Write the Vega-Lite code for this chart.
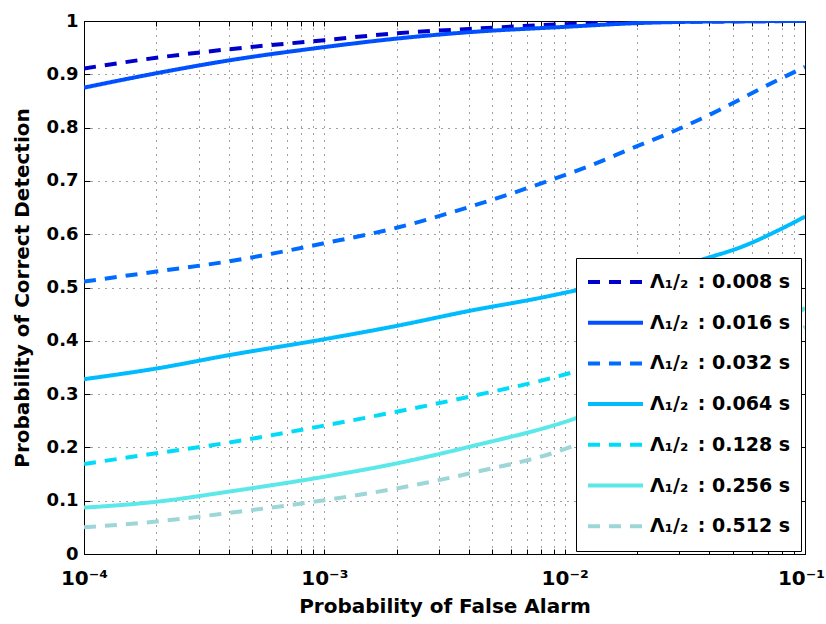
{
  "$schema": "https://vega.github.io/schema/vega-lite/v6.json",
  "width": 721,
  "height": 533,
  "autosize": {"type": "none"},
  "padding": {"left": 84, "top": 21, "right": 21, "bottom": 70},
  "background": "white",
  "config": {
    "view": {"stroke": "black", "strokeWidth": 1},
    "font": "DejaVu Sans",
    "axis": {
      "labelFont": "DejaVu Sans",
      "labelFontWeight": "bold",
      "labelFontSize": 18,
      "labelColor": "black",
      "titleFont": "DejaVu Sans",
      "titleFontWeight": "bold",
      "titleFontSize": 20,
      "titleColor": "black",
      "domainColor": "black",
      "tickColor": "black",
      "gridColor": "black",
      "gridOpacity": 0.75,
      "gridDash": [1, 6],
      "gridWidth": 1
    }
  },
  "data": {
    "values": [
      {"pfa": 0.0001, "pd": 0.911, "series": "0.008"},
      {"pfa": 0.0002, "pd": 0.931, "series": "0.008"},
      {"pfa": 0.0004, "pd": 0.947, "series": "0.008"},
      {"pfa": 0.001, "pd": 0.964, "series": "0.008"},
      {"pfa": 0.002, "pd": 0.977, "series": "0.008"},
      {"pfa": 0.004, "pd": 0.985, "series": "0.008"},
      {"pfa": 0.01, "pd": 0.994, "series": "0.008"},
      {"pfa": 0.02, "pd": 0.998, "series": "0.008"},
      {"pfa": 0.04, "pd": 0.999, "series": "0.008"},
      {"pfa": 0.1, "pd": 1.0, "series": "0.008"},

      {"pfa": 0.0001, "pd": 0.875, "series": "0.016"},
      {"pfa": 0.0002, "pd": 0.902, "series": "0.016"},
      {"pfa": 0.0004, "pd": 0.926, "series": "0.016"},
      {"pfa": 0.001, "pd": 0.951, "series": "0.016"},
      {"pfa": 0.002, "pd": 0.967, "series": "0.016"},
      {"pfa": 0.004, "pd": 0.979, "series": "0.016"},
      {"pfa": 0.01, "pd": 0.989, "series": "0.016"},
      {"pfa": 0.02, "pd": 0.996, "series": "0.016"},
      {"pfa": 0.04, "pd": 0.999, "series": "0.016"},
      {"pfa": 0.1, "pd": 1.0, "series": "0.016"},

      {"pfa": 0.0001, "pd": 0.511, "series": "0.032"},
      {"pfa": 0.0002, "pd": 0.530, "series": "0.032"},
      {"pfa": 0.0004, "pd": 0.549, "series": "0.032"},
      {"pfa": 0.001, "pd": 0.583, "series": "0.032"},
      {"pfa": 0.002, "pd": 0.612, "series": "0.032"},
      {"pfa": 0.004, "pd": 0.651, "series": "0.032"},
      {"pfa": 0.01, "pd": 0.711, "series": "0.032"},
      {"pfa": 0.0125, "pd": 0.727, "series": "0.032"},
      {"pfa": 0.019, "pd": 0.761, "series": "0.032"},
      {"pfa": 0.029, "pd": 0.795, "series": "0.032"},
      {"pfa": 0.044, "pd": 0.833, "series": "0.032"},
      {"pfa": 0.066, "pd": 0.874, "series": "0.032"},
      {"pfa": 0.1, "pd": 0.914, "series": "0.032"},

      {"pfa": 0.0001, "pd": 0.328, "series": "0.064"},
      {"pfa": 0.0002, "pd": 0.348, "series": "0.064"},
      {"pfa": 0.0004, "pd": 0.373, "series": "0.064"},
      {"pfa": 0.001, "pd": 0.403, "series": "0.064"},
      {"pfa": 0.002, "pd": 0.428, "series": "0.064"},
      {"pfa": 0.004, "pd": 0.456, "series": "0.064"},
      {"pfa": 0.008, "pd": 0.481, "series": "0.064"},
      {"pfa": 0.011, "pd": 0.494, "series": "0.064"},
      {"pfa": 0.02, "pd": 0.518, "series": "0.064"},
      {"pfa": 0.039, "pd": 0.555, "series": "0.064"},
      {"pfa": 0.055, "pd": 0.577, "series": "0.064"},
      {"pfa": 0.078, "pd": 0.608, "series": "0.064"},
      {"pfa": 0.1, "pd": 0.633, "series": "0.064"},

      {"pfa": 0.0001, "pd": 0.169, "series": "0.128"},
      {"pfa": 0.0002, "pd": 0.189, "series": "0.128"},
      {"pfa": 0.0004, "pd": 0.209, "series": "0.128"},
      {"pfa": 0.001, "pd": 0.241, "series": "0.128"},
      {"pfa": 0.002, "pd": 0.267, "series": "0.128"},
      {"pfa": 0.004, "pd": 0.295, "series": "0.128"},
      {"pfa": 0.011, "pd": 0.342, "series": "0.128"},
      {"pfa": 0.02, "pd": 0.38, "series": "0.128"},
      {"pfa": 0.04, "pd": 0.44, "series": "0.128"},
      {"pfa": 0.091, "pd": 0.520, "series": "0.128"},
      {"pfa": 0.1, "pd": 0.531, "series": "0.128"},

      {"pfa": 0.0001, "pd": 0.087, "series": "0.256"},
      {"pfa": 0.0002, "pd": 0.098, "series": "0.256"},
      {"pfa": 0.0004, "pd": 0.117, "series": "0.256"},
      {"pfa": 0.001, "pd": 0.145, "series": "0.256"},
      {"pfa": 0.002, "pd": 0.170, "series": "0.256"},
      {"pfa": 0.004, "pd": 0.201, "series": "0.256"},
      {"pfa": 0.011, "pd": 0.254, "series": "0.256"},
      {"pfa": 0.02, "pd": 0.30, "series": "0.256"},
      {"pfa": 0.04, "pd": 0.37, "series": "0.256"},
      {"pfa": 0.091, "pd": 0.448, "series": "0.256"},
      {"pfa": 0.1, "pd": 0.462, "series": "0.256"},

      {"pfa": 0.0001, "pd": 0.050, "series": "0.512"},
      {"pfa": 0.0002, "pd": 0.061, "series": "0.512"},
      {"pfa": 0.0004, "pd": 0.077, "series": "0.512"},
      {"pfa": 0.001, "pd": 0.101, "series": "0.512"},
      {"pfa": 0.002, "pd": 0.123, "series": "0.512"},
      {"pfa": 0.004, "pd": 0.151, "series": "0.512"},
      {"pfa": 0.011, "pd": 0.204, "series": "0.512"},
      {"pfa": 0.02, "pd": 0.26, "series": "0.512"},
      {"pfa": 0.04, "pd": 0.33, "series": "0.512"},
      {"pfa": 0.091, "pd": 0.414, "series": "0.512"},
      {"pfa": 0.1, "pd": 0.426, "series": "0.512"}
    ]
  },
  "layer": [
    {
      "mark": {"type": "line", "opacity": 0},
      "encoding": {
        "x": {
          "field": "pfa",
          "type": "quantitative",
          "scale": {"type": "log", "domain": [0.0001, 0.1], "nice": false},
          "axis": {
            "orient": "top",
            "title": null,
            "labels": false,
            "domain": false,
            "grid": false,
            "values": [0.0001, 0.0002, 0.0003, 0.0004, 0.0005, 0.0006, 0.0007, 0.0008, 0.0009,
                       0.001, 0.002, 0.003, 0.004, 0.005, 0.006, 0.007, 0.008, 0.009,
                       0.01, 0.02, 0.03, 0.04, 0.05, 0.06, 0.07, 0.08, 0.09, 0.1],
            "tickSize": -5
          }
        },
        "y": {
          "field": "pd",
          "type": "quantitative",
          "scale": {"domain": [0, 1], "nice": false, "zero": true},
          "axis": {
            "orient": "right",
            "title": null,
            "labels": false,
            "domain": false,
            "grid": false,
            "values": [0, 0.1, 0.2, 0.3, 0.4, 0.5, 0.6, 0.7, 0.8, 0.9, 1],
            "tickSize": -6
          }
        },
        "detail": {"field": "series", "type": "nominal"}
      }
    },
    {
      "mark": {"type": "line", "strokeWidth": 4, "interpolate": "monotone", "clip": true},
      "encoding": {
        "x": {
          "field": "pfa",
          "type": "quantitative",
          "scale": {"type": "log", "domain": [0.0001, 0.1], "nice": false},
          "axis": {
            "title": "Probability of False Alarm",
            "values": [0.0001, 0.0002, 0.0003, 0.0004, 0.0005, 0.0006, 0.0007, 0.0008, 0.0009,
                       0.001, 0.002, 0.003, 0.004, 0.005, 0.006, 0.007, 0.008, 0.009,
                       0.01, 0.02, 0.03, 0.04, 0.05, 0.06, 0.07, 0.08, 0.09, 0.1],
            "labelExpr": "abs(log(datum.value)/LN10 - round(log(datum.value)/LN10)) < 0.001 ? '10' + (round(log(datum.value)/LN10) == -4 ? '⁻⁴' : round(log(datum.value)/LN10) == -3 ? '⁻³' : round(log(datum.value)/LN10) == -2 ? '⁻²' : '⁻¹') : ''",
            "labelOverlap": false,
            "labelFlush": false,
            "labelBound": false,
            "labelFontSize": 20,
            "labelPadding": 19,
            "labelOffset": {"condition": {"test": "datum.value > 0.095", "value": -4}, "value": 0},
            "tickSize": -5,
            "grid": true,
            "titlePadding": 8
          }
        },
        "y": {
          "field": "pd",
          "type": "quantitative",
          "scale": {"domain": [0, 1], "nice": false, "zero": true},
          "axis": {
            "title": "Probability of Correct Detection",
            "values": [0, 0.1, 0.2, 0.3, 0.4, 0.5, 0.6, 0.7, 0.8, 0.9, 1],
            "format": ".1~f",
            "labelOverlap": false,
            "labelFlush": false,
            "labelBound": false,
            "labelPadding": 12,
            "tickSize": -6,
            "grid": true,
            "titlePadding": 14
          }
        },
        "color": {
          "field": "series",
          "type": "nominal",
          "scale": {
            "domain": ["0.008", "0.016", "0.032", "0.064", "0.128", "0.256", "0.512"],
            "range": ["#0000cc", "#0050ff", "#006cff", "#00bcff", "#00dcf8", "#5ce8e8", "#9dd6d6"]
          },
          "legend": {
            "title": null,
            "orient": "none",
            "legendX": 492,
            "legendY": 237,
            "fillColor": "white",
            "strokeColor": "black",
            "padding": 10,
            "symbolType": "stroke",
            "symbolStrokeWidth": 4,
            "symbolSize": 3025,
            "clipHeight": 28,
            "rowPadding": 12.7,
            "labelFont": "DejaVu Sans",
            "labelFontWeight": "bold",
            "labelFontSize": 19,
            "labelColor": "black",
            "labelOffset": 5,
            "labelExpr": "'Λ₁/₂\u2002: ' + datum.label + ' s'"
          }
        },
        "strokeDash": {
          "field": "series",
          "type": "nominal",
          "scale": {
            "domain": ["0.008", "0.016", "0.032", "0.064", "0.128", "0.256", "0.512"],
            "range": [[12, 9], [1, 0], [12, 9], [1, 0], [12, 9], [1, 0], [12, 9]]
          },
          "legend": {
            "title": null,
            "orient": "none",
            "legendX": 492,
            "legendY": 237,
            "fillColor": "white",
            "strokeColor": "black",
            "padding": 10,
            "symbolType": "stroke",
            "symbolStrokeWidth": 4,
            "symbolSize": 3025,
            "clipHeight": 28,
            "rowPadding": 12.7,
            "labelFont": "DejaVu Sans",
            "labelFontWeight": "bold",
            "labelFontSize": 19,
            "labelColor": "black",
            "labelOffset": 5,
            "labelExpr": "'Λ₁/₂\u2002: ' + datum.label + ' s'"
          }
        }
      }
    }
  ],
  "resolve": {"axis": {"x": "independent", "y": "independent"}}
}
